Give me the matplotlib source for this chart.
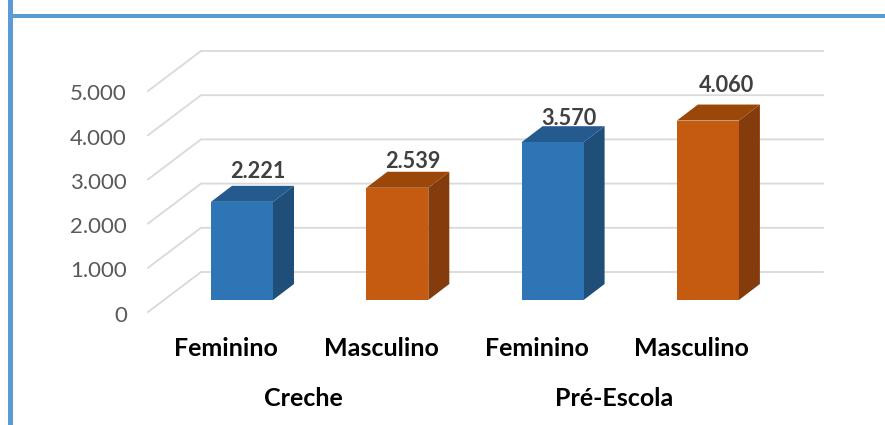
import matplotlib
matplotlib.use('Agg')
import matplotlib.pyplot as plt
from matplotlib.patches import Polygon, Rectangle

categories = ['Feminino', 'Masculino', 'Feminino', 'Masculino']
groups = ['Creche', 'Pré-Escola']
values = [2221, 2539, 3570, 4060]
value_labels = ['2.221', '2.539', '3.570', '4.060']
y_ticks = [0, 1000, 2000, 3000, 4000, 5000]
y_tick_labels = ['0', '1.000', '2.000', '3.000', '4.000', '5.000']

plt.rcParams['font.family'] = ['Lato', 'DejaVu Sans']

W, H = 885, 425
PX_X = 155.3            # pixels per category
PX_Y = 0.0442           # pixels per unit of value
X0, Y0 = 242.0, 300.0   # pixel position of first bar centre, value 0

fig = plt.figure(figsize=(W / 100, H / 100), dpi=100)
ax = fig.add_axes([0, 0, 1, 1])
ax.set_xlim(-X0 / PX_X, (W - X0) / PX_X)
ax.set_ylim(-(H - Y0) / PX_Y, Y0 / PX_Y)
ax.axis('off')

def dx(px):
    return px / PX_X

def dy(px):
    return px / PX_Y

# frame, only top and left sides
ax.add_patch(Rectangle((dx(8 - X0), dy(Y0 - 425)), dx(5), dy(425), color='#5B9BD5', lw=0, zorder=1))
ax.add_patch(Rectangle((dx(8 - X0), dy(Y0 - 17.5)), dx(877), dy(3.5), color='#5B9BD5', lw=0, zorder=1))

# walls
grid_c = '#D9D9D9'
for t, lab in zip(y_ticks, y_tick_labels):
    xs = [dx(148 - X0), dx(201 - X0), dx(823 - X0)]
    ys = [t + dy(-12), t + dy(28), t + dy(28)]
    ax.plot(xs, ys, color=grid_c, lw=1.3, solid_joinstyle='miter', zorder=2)
    ax.text(dx(127 - X0), t + dy(-13.5), lab, ha='right', va='center_baseline', fontsize=16, color='#595959')

# bars
bar_w = dx(62)
side_x, side_y = dx(21), dy(16)
face_c = ['#2E75B6', '#C55A11', '#2E75B6', '#C55A11']
side_c = ['#1F4E79', '#843C0C', '#1F4E79', '#843C0C']
top_c = ['#255A8E', '#9A4709', '#255A8E', '#9A4709']
# label nudges in pixels, they are not evenly placed in the original
nudge_x = [0, 0, 0, 3]
nudge_y = [-1, 3, 5, -6]
for i, v in enumerate(values):
    l, r = i - bar_w / 2, i + bar_w / 2
    ax.add_patch(Polygon([(l, 0), (r, 0), (r, v), (l, v)], color=face_c[i], lw=0, zorder=4))
    ax.add_patch(Polygon([(r, 0), (r + side_x, side_y), (r + side_x, v + side_y), (r, v)], color=side_c[i], lw=0, zorder=3))
    ax.add_patch(Polygon([(l, v), (r, v), (r + side_x, v + side_y), (l + side_x, v + side_y)], color=top_c[i], lw=0, zorder=3))
    ax.text(i + dx(16 + nudge_x[i]), v + dy(31 - nudge_y[i]), value_labels[i], ha='center', va='center_baseline',
            fontsize=15.6, fontweight='bold', color='#404040', zorder=5)

# category labels
for i, c in enumerate(categories):
    ax.text(i - dx(16), dy(-46), c, ha='center', va='center_baseline', fontsize=18, fontweight='bold', color='black')
for i, g in enumerate(groups):
    ax.text(2 * i + 0.5 - dx(16), dy(-97), g, ha='center', va='center_baseline', fontsize=18, fontweight='bold', color='black')

fig.savefig('out.png', dpi=100)
